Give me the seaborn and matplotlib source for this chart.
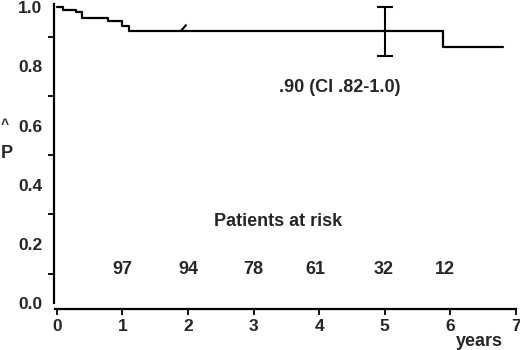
import numpy as np
import pandas as pd
import matplotlib
matplotlib.use("Agg")
import matplotlib.pyplot as plt
from matplotlib.path import Path
from matplotlib.markers import MarkerStyle
import seaborn as sns

# ---- data ----
step_times = [0.0, 0.09, 0.29, 0.39, 0.78, 0.99, 1.10, 5.89, 6.80]
step_surv = [1.0, 0.99, 0.982, 0.962, 0.953, 0.937, 0.921, 0.864, 0.864]
censor_times = [1.88]
censor_surv = [0.921]
ci_time = [5.0]
ci_est = [0.921]
ci_low = [0.835]
ci_high = [1.0]
ci_label = ".90 (CI .82-1.0)"
risk_times = [1, 2, 3, 3.95, 4.98, 5.92]
risk_counts = [97, 94, 78, 61, 32, 12]
x_ticks = [0, 1, 2, 3, 4, 5, 6, 7]
y_major = [0.0, 0.2, 0.4, 0.6, 0.8, 1.0]
y_minor = [0.1, 0.3, 0.5, 0.7, 0.9]

sns.set_theme(style="white")
plt.rcParams["font.family"] = ["Liberation Sans", "DejaVu Sans"]
plt.rcParams["font.weight"] = "bold"

fig = plt.figure(figsize=(5.2, 3.5), dpi=100)
ax = fig.add_axes([0.103, 0.117, 0.889, 0.871])

df = pd.DataFrame({"t": step_times, "s": step_surv})
sns.lineplot(data=df, x="t", y="s", ax=ax, drawstyle="steps-post",
             color="black", linewidth=1.6, estimator=None, sort=True)

# censor mark
cmark = MarkerStyle(Path([(0, 0), (0.85, 1.0)]))
ax.plot(censor_times, censor_surv, ls="none", marker=cmark, ms=10,
        mew=1.5, color="black")

# CI error bar
ax.errorbar(ci_time, ci_est,
            yerr=[np.array(ci_est) - np.array(ci_low), np.array(ci_high) - np.array(ci_est)],
            fmt="none", ecolor="black", elinewidth=1.5, capsize=5.5, capthick=1.5)

ax.text(4.32, 0.73, ci_label, ha="center", va="center", fontsize=13, fontweight="bold")
ax.text(3.38, 0.275, "Patients at risk", ha="center", va="center", fontsize=13, fontweight="bold")
for t, n in zip(risk_times, risk_counts):
    ax.text(t, 0.115, str(n), ha="center", va="center", fontsize=13, fontweight="bold")

ax.text(6.45, -0.128, "years", ha="center", va="center", fontsize=13,
        fontweight="bold", clip_on=False)

fig.text(7 / 520, 1 - 153 / 350, "P", ha="center", va="center", fontsize=13, fontweight="bold")
fig.text(5 / 520, 1 - 125 / 350, "^", ha="center", va="center", fontsize=10, fontweight="bold")

ax.set_xlim(-0.05, 7.0)
ax.set_ylim(-0.02, 1.01)
ax.set_xticks(x_ticks)
ax.set_xticklabels([str(v) for v in x_ticks], fontweight="bold", fontsize=12.5)
ax.set_yticks(y_major)
ax.set_yticklabels([f"{v:.1f}" for v in y_major], fontweight="bold", fontsize=12.5)
ax.set_yticks(y_minor, minor=True)
ax.set_xlabel("")
ax.set_ylabel("")

for sp in ["top", "right"]:
    ax.spines[sp].set_visible(False)
for sp in ["left", "bottom"]:
    ax.spines[sp].set_linewidth(1.6)
    ax.spines[sp].set_color("black")
ax.spines["left"].set_bounds(0.0, 1.01)
ax.spines["bottom"].set_bounds(-0.03, 7.0)

ax.tick_params(axis="both", which="both", direction="out", color="black", width=1.3)
ax.tick_params(axis="y", which="major", length=5, pad=3)
ax.tick_params(axis="y", which="minor", length=4, left=True)
ax.tick_params(axis="x", which="major", length=4, pad=3.5, bottom=True)

fig.savefig("out.png", dpi=100, facecolor="white")
